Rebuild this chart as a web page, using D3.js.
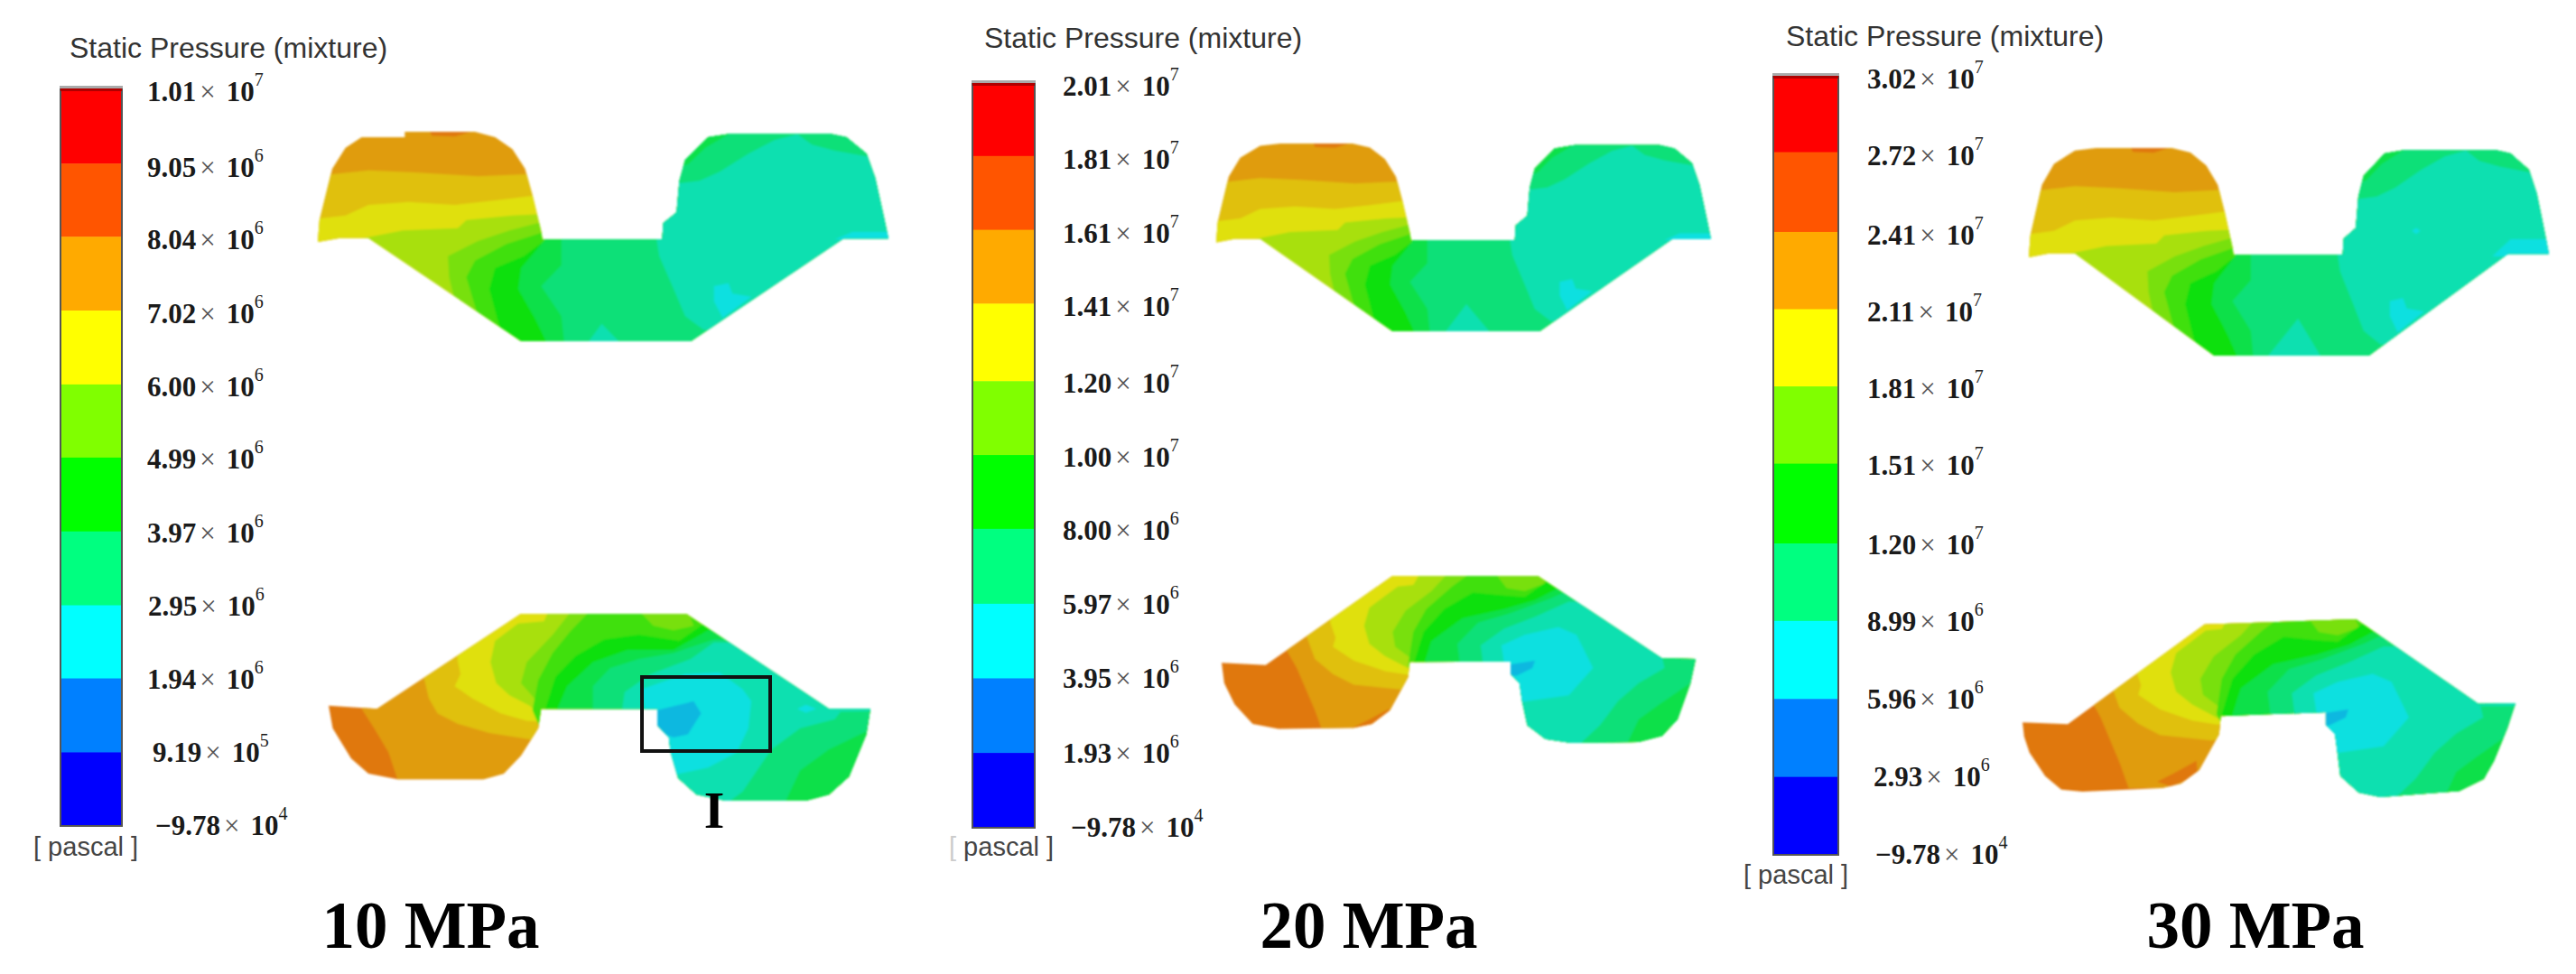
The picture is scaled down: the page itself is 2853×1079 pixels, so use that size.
<!DOCTYPE html>
<html>
<head>
<meta charset="utf-8">
<script src="https://cdn.jsdelivr.net/npm/d3@7"></script>
<style>
  html, body { margin: 0; background: #fff; }
</style>
</head>
<body>
<div id="chart"></div>
<script>
// Pressure cases and the legend levels of each one [pascal]
const caseNames = ["10 MPa", "20 MPa", "30 MPa"];
const levels10 = [1.01e7, 9.05e6, 8.04e6, 7.02e6, 6.00e6, 4.99e6, 3.97e6, 2.95e6, 1.94e6, 9.19e5, -9.78e4];
const levels20 = [2.01e7, 1.81e7, 1.61e7, 1.41e7, 1.20e7, 1.00e7, 8.00e6, 5.97e6, 3.95e6, 1.93e6, -9.78e4];
const levels30 = [3.02e7, 2.72e7, 2.41e7, 2.11e7, 1.81e7, 1.51e7, 1.20e7, 8.99e6, 5.96e6, 2.93e6, -9.78e4];
const legendTitle = "Static Pressure (mixture)";
const legendUnit = "pascal";
const legendColors = ["#ff0000", "#ff5500", "#ffaa00", "#ffff00", "#80ff00", "#00ff00", "#00ff80", "#00ffff", "#0080ff", "#0000ff"];
const contourColors = ["#e07810", "#e09c10", "#e0c010", "#e0e010", "#a8e010", "#78e010", "#40e010", "#10e010", "#10e048", "#10e078", "#10e0b0", "#10e0e0", "#10b8e0"];

// Section outlines in mesh units
const upperOutlineNotch = [[552,803],[555,730],[577,560],[600,490],[628,455],[703,455],[703,437],[825,437],[860,455],[890,495],[912,560],[925,650],[940,770],[942,795],[1150,795],[1152,740],[1175,705],[1180,600],[1190,530],[1230,455],[1270,443],[1440,443],[1470,455],[1505,510],[1520,590],[1535,720],[1543,792],[1465,792],[1200,1133],[905,1133],[640,790],[590,790]];
const upperOutline = [[552,803],[555,730],[577,560],[600,490],[640,445],[680,437],[825,437],[860,452],[890,495],[912,560],[925,650],[940,770],[942,795],[1150,795],[1152,740],[1175,705],[1180,600],[1190,530],[1230,455],[1270,443],[1440,443],[1470,455],[1505,510],[1520,590],[1535,720],[1543,792],[1465,792],[1200,1133],[905,1133],[640,790],[590,790]];
const lowerOutline10 = [[571,545],[655,555],[905,240],[1192,240],[1440,555],[1512,555],[1505,640],[1475,780],[1440,840],[1400,860],[1260,860],[1210,840],[1178,785],[1165,700],[1162,650],[1142,610],[1142,555],[940,555],[935,620],[905,710],[875,770],[840,789],[690,789],[640,770],[610,720],[578,620]];
const lowerOutline20 = [[545,403],[630,410],[875,115],[1155,115],[1395,388],[1460,390],[1450,470],[1425,590],[1395,645],[1350,665],[1220,668],[1170,655],[1135,610],[1125,530],[1120,470],[1103,440],[1103,398],[908,400],[905,450],[870,560],[835,605],[800,618],[655,622],[605,605],[570,540],[550,470]];
const lowerOutline30 = [[545,436],[629,441],[883,131],[1164,115],[1391,378],[1460,376],[1445,453],[1420,556],[1401,612],[1356,649],[1209,668],[1169,654],[1135,603],[1128,509],[1125,472],[1108,444],[1108,404],[913,416],[910,472],[873,584],[839,626],[804,640],[656,651],[617,645],[587,603],[558,530],[548,480]];

// Contour regions as [band, polygon], painted in order
const upperBands = [
  [1, [[500,380],[1700,380],[1700,1250],[500,1250]]],
  [0, [[745,430],[830,430],[790,453],[750,450]]],
  [2, [[500,580],[578,578],[640,565],[720,572],[830,585],[915,578],[1000,380],[1700,380],[1700,1250],[500,1250]]],
  [3, [[500,728],[555,725],[600,715],[640,680],[710,670],[790,680],[860,665],[925,650],[1000,380],[1700,380],[1700,1250],[500,1250]]],
  [4, [[620,795],[700,765],[795,757],[810,730],[890,715],[945,710],[1000,380],[1700,380],[1700,1250],[620,1250]]],
  [5, [[790,1000],[780,920],[778,850],[830,800],[885,765],[945,735],[1000,380],[1700,380],[1700,1250],[790,1250]]],
  [6, [[830,1050],[810,920],[825,865],[880,810],[945,770],[1000,380],[1700,380],[1700,1250],[830,1250]]],
  [7, [[875,1140],[850,960],[860,890],[910,850],[945,800],[1000,380],[1700,380],[1700,1250],[875,1250]]],
  [8, [[950,1140],[930,1060],[900,960],[905,890],[945,800],[1000,380],[1700,380],[1700,1250],[950,1250]]],
  [9, [[980,1140],[975,1050],[940,950],[975,880],[975,790],[1000,380],[1700,380],[1700,1250],[980,1250]]],
  [10, [[1140,790],[1145,850],[1170,960],[1190,1050],[1222,1095],[1700,1095],[1700,380],[1140,380]]],
  [10, [[1020,1140],[1045,1075],[1078,1140]]],
  [9, [[1170,610],[1215,600],[1250,570],[1300,510],[1345,465],[1385,445],[1410,480],[1450,500],[1510,520],[1600,400],[1170,400]]],
  [8, [[1170,560],[1195,545],[1225,490],[1270,440],[1170,400]]],
  [11, [[1240,950],[1265,940],[1272,975],[1305,985],[1255,1055],[1240,1000]]],
  [11, [[1450,795],[1480,770],[1600,770],[1600,800]]]
];
const upperExtra20 = [
  [10, [[1009,1140],[1053,1033],[1102,1140]]]
];
const upperExtra30 = [
  [10, [[1005,1140],[1065,1009],[1110,1140]]],
  [11, [[1435,800],[1470,743],[1600,743],[1600,800]]],
  [11, [[1290,705],[1298,715],[1290,725],[1282,715]]]
];
const lowerBands10 = [
  [0, [[500,100],[1700,100],[1700,950],[500,950]]],
  [1, [[620,530],[650,620],[675,700],[710,900],[1700,900],[1700,100],[620,100]]],
  [2, [[735,440],[745,520],[760,570],[795,605],[850,635],[925,658],[960,650],[1000,900],[1700,900],[1700,100],[735,100]]],
  [3, [[795,395],[800,440],[790,480],[820,520],[870,570],[915,595],[960,600],[1000,900],[1700,900],[1700,100],[795,100]]],
  [4, [[960,200],[945,265],[900,272],[860,330],[852,400],[862,470],[885,510],[920,545],[940,580],[1000,900],[1700,900],[1700,100],[960,100]]],
  [5, [[1005,200],[960,310],[915,400],[905,470],[928,520],[935,600],[1000,900],[1700,900],[1700,100],[1005,100]]],
  [6, [[1040,200],[990,300],[960,370],[935,460],[925,560],[1000,900],[1700,900],[1700,100],[1040,100]]],
  [5, [[1110,230],[1135,280],[1170,295],[1205,280],[1195,230]]],
  [7, [[945,570],[965,450],[1000,380],[1050,325],[1110,310],[1180,330],[1225,270],[1700,270],[1700,900],[1000,900]]],
  [8, [[965,570],[985,480],[1030,400],[1090,360],[1170,360],[1230,295],[1700,295],[1700,900],[1000,900]]],
  [9, [[1030,570],[1030,480],[1060,420],[1110,390],[1170,370],[1240,325],[1700,325],[1700,900],[1030,900]]],
  [10, [[1080,570],[1085,500],[1130,440],[1200,390],[1240,335],[1700,335],[1700,555],[1460,565],[1450,590],[1390,620],[1340,690],[1290,830],[1240,900],[1080,900]]],
  [8, [[1530,620],[1505,630],[1440,690],[1390,760],[1360,880],[1530,880]]],
  [11, [[1115,490],[1190,440],[1250,435],[1290,490],[1305,530],[1300,620],[1280,700],[1230,750],[1170,775],[1120,700],[1120,555]]],
  [11, [[1385,555],[1400,542],[1418,555],[1400,568]]],
  [12, [[1130,565],[1205,530],[1218,570],[1195,640],[1170,650],[1130,620]]]
];
const lowerBands20 = [
  [0, [[500,50],[1700,50],[1700,720],[500,720]]],
  [1, [[670,360],[690,420],[710,500],[725,560],[742,640],[1700,640],[1700,50],[670,50]]],
  [0, [[795,620],[830,590],[868,555],[870,600],[820,635]]],
  [2, [[710,320],[725,390],[760,440],[800,475],[895,492],[950,480],[1000,720],[1700,720],[1700,50],[710,50]]],
  [3, [[755,270],[765,320],[760,350],[800,395],[860,430],[905,442],[950,440],[1000,720],[1700,720],[1700,50],[755,50]]],
  [4, [[930,100],[915,145],[885,150],[830,220],[820,280],[830,340],[860,380],[910,425],[1000,720],[1700,720],[1700,50],[930,50]]],
  [5, [[985,100],[950,165],[900,230],[875,300],[880,350],[912,390],[1000,720],[1700,720],[1700,50],[985,50]]],
  [6, [[1030,100],[990,150],[940,225],[915,300],[905,410],[1000,720],[1700,720],[1700,50],[1030,50]]],
  [5, [[1075,110],[1095,155],[1130,165],[1170,140],[1160,105]]],
  [7, [[915,410],[935,300],[975,225],[1030,170],[1090,180],[1130,185],[1180,125],[1700,125],[1700,720],[1000,720]]],
  [8, [[935,410],[950,330],[1010,255],[1090,225],[1150,195],[1195,155],[1700,155],[1700,720],[1000,720]]],
  [9, [[1005,410],[1000,340],[1040,270],[1100,240],[1180,190],[1205,170],[1700,170],[1700,720],[1005,720]]],
  [10, [[1050,410],[1045,345],[1090,290],[1150,250],[1215,200],[1700,200],[1700,385],[1395,385],[1400,420],[1350,470],[1310,530],[1275,610],[1225,690],[1050,690]]],
  [8, [[1480,465],[1450,470],[1390,540],[1350,590],[1325,680],[1480,680]]],
  [11, [[1085,345],[1130,310],[1195,285],[1230,310],[1262,420],[1215,510],[1125,532],[1090,400]]],
  [12, [[1095,410],[1150,395],[1145,420],[1115,445],[1095,445]]]
];

const width = 2853;
const height = 1079;

// Pixel placement of each panel
const panels = [
  { name: caseNames[0], levels: levels10, barX: [67, 135], barY: [915, 97], titleX: 77, titleY: 64, unitX: 37, unitY: 948, labelX: 163, labelNudge: {7: 1, 9: 6}, nameX: 477, leftBracket: "#444",
    upperX: [352, 984], upperY: [146, 378], upperShape: upperOutlineNotch, upperExtra: [],
    lowerX: [364, 964], lowerY: [680, 887], lowerDomX: [571, 1512], lowerDomY: [240, 860], lowerShape: lowerOutline10, lowerBands: lowerBands10 },
  { name: caseNames[1], levels: levels20, barX: [1077, 1146], barY: [917, 91], titleX: 1090, titleY: 53, unitX: 1051, unitY: 948, labelX: 1177, labelNudge: {}, nameX: 1516, leftBracket: "#ccc",
    upperX: [1347, 1895], upperY: [159, 367], upperShape: upperOutline, upperExtra: upperExtra20,
    lowerX: [1353, 1878], lowerY: [638, 823], lowerDomX: [545, 1460], lowerDomY: [115, 668], lowerShape: lowerOutline20, lowerBands: lowerBands20 },
  { name: caseNames[2], levels: levels30, barX: [1964, 2036], barY: [947, 83], titleX: 1978, titleY: 51, unitX: 1931, unitY: 979, labelX: 2068, labelNudge: {9: 7}, nameX: 2498, leftBracket: "#444",
    upperX: [2247, 2823], upperY: [164, 394], upperShape: upperOutline, upperExtra: upperExtra30,
    lowerX: [2240, 2786], lowerY: [686, 883], lowerDomX: [545, 1460], lowerDomY: [115, 668], lowerShape: lowerOutline30, lowerBands: lowerBands20 }
];

const svg = d3.select("#chart")
  .append("svg")
  .attr("width", width)
  .attr("height", height)
  .style("display", "block");

const defs = svg.append("defs");
defs.append("filter")
  .attr("id", "soft")
  .append("feGaussianBlur")
  .attr("stdDeviation", 1);

const bandColor = d3.scaleOrdinal().domain(d3.range(contourColors.length)).range(contourColors);

function drawSection(id, outline, bands, x, y) {
  const line = d3.line()
    .x(d => x(d[0]))
    .y(d => y(d[1]))
    .curve(d3.curveLinearClosed);

  defs.append("clipPath")
    .attr("id", id)
    .append("path")
    .attr("d", line(outline));

  svg.append("g")
    .attr("filter", "url(#soft)")
    .append("g")
    .attr("clip-path", `url(#${id})`)
    .selectAll("path")
    .data(bands)
    .enter()
    .append("path")
    .attr("d", d => line(d[1]))
    .attr("fill", d => bandColor(d[0]));
}

function drawLegend(p) {
  const y = d3.scaleLinear()
    .domain([d3.min(p.levels), d3.max(p.levels)])
    .range(p.barY);
  // labels sit a little lower against the bar near its top
  const baseline = d3.scaleLinear()
    .domain([d3.min(p.levels), d3.max(p.levels)])
    .range([10, 15]);

  svg.append("text")
    .attr("x", p.titleX)
    .attr("y", p.titleY)
    .attr("font-family", "'Liberation Sans', Arial, sans-serif")
    .attr("font-size", 32)
    .attr("fill", "#333")
    .text(legendTitle);

  // One rect per interval between two levels
  svg.append("g")
    .selectAll("rect")
    .data(d3.pairs(p.levels))
    .enter()
    .append("rect")
    .attr("x", p.barX[0])
    .attr("y", d => y(d[0]))
    .attr("width", p.barX[1] - p.barX[0])
    .attr("height", d => y(d[1]) - y(d[0]) + 0.5)
    .attr("fill", (d, i) => legendColors[i]);

  svg.append("rect")
    .attr("x", p.barX[0])
    .attr("y", p.barY[1])
    .attr("width", p.barX[1] - p.barX[0])
    .attr("height", p.barY[0] - p.barY[1])
    .attr("fill", "none")
    .attr("stroke", "#555")
    .attr("stroke-width", 2);

  svg.append("rect")
    .attr("x", p.barX[0])
    .attr("y", p.barY[1] + 1)
    .attr("width", p.barX[1] - p.barX[0])
    .attr("height", 3)
    .attr("fill", "#b00000");

  svg.append("rect")
    .attr("x", p.barX[0] - 1)
    .attr("y", p.barY[1] - 2)
    .attr("width", p.barX[1] - p.barX[0] + 2)
    .attr("height", 3)
    .attr("fill", "#aaa");

  const labels = svg.append("g")
    .attr("font-family", "'Liberation Serif', 'Times New Roman', serif")
    .attr("font-size", 31)
    .attr("font-weight", "bold")
    .attr("fill", "#1a1a1a")
    .selectAll("text")
    .data(p.levels)
    .enter()
    .append("text")
    .attr("x", (d, i) => p.labelX + (d < 0 ? 9 : 0) + (p.labelNudge[i] || 0))
    .attr("y", d => y(d) + baseline(d));

  // split each level into mantissa and power of ten
  labels.append("tspan")
    .text(d => d3.format(".2f")(Math.abs(d) / Math.pow(10, Math.floor(Math.log10(Math.abs(d)))))
      .replace(/^/, d < 0 ? "\u2212" : ""));
  labels.append("tspan")
    .attr("dx", 4)
    .attr("font-weight", "normal")
    .attr("fill", "#555")
    .text("\u00d7");
  labels.append("tspan")
    .attr("dx", 12)
    .text("10");
  labels.append("tspan")
    .attr("dy", -17)
    .attr("font-size", 20)
    .attr("font-weight", "normal")
    .text(d => Math.floor(Math.log10(Math.abs(d))));

  const unit = svg.append("text")
    .attr("x", p.unitX)
    .attr("y", p.unitY)
    .attr("font-family", "'Liberation Sans', Arial, sans-serif")
    .attr("font-size", 29)
    .attr("fill", "#444");
  unit.append("tspan").attr("fill", p.leftBracket).text("[");
  unit.append("tspan").text(` ${legendUnit} ]`);

  svg.append("text")
    .attr("x", p.nameX)
    .attr("y", 1050)
    .attr("text-anchor", "middle")
    .attr("font-family", "'Liberation Serif', 'Times New Roman', serif")
    .attr("font-size", 73)
    .attr("font-weight", "bold")
    .attr("fill", "#000")
    .text(p.name);
}

panels.forEach((p, i) => {
  drawLegend(p);

  const ux = d3.scaleLinear().domain([552, 1543]).range(p.upperX);
  const uy = d3.scaleLinear().domain([437, 1133]).range(p.upperY);
  drawSection(`upper${i}`, p.upperShape, upperBands.concat(p.upperExtra), ux, uy);

  const lx = d3.scaleLinear().domain(p.lowerDomX).range(p.lowerX);
  const ly = d3.scaleLinear().domain(p.lowerDomY).range(p.lowerY);
  drawSection(`lower${i}`, p.lowerShape, p.lowerBands, lx, ly);
});

// Detail box I on the 10 MPa case
svg.append("rect")
  .attr("x", 711)
  .attr("y", 750)
  .attr("width", 142)
  .attr("height", 82)
  .attr("fill", "none")
  .attr("stroke", "#111")
  .attr("stroke-width", 4);

svg.append("text")
  .attr("x", 791)
  .attr("y", 917)
  .attr("text-anchor", "middle")
  .attr("font-family", "'Liberation Serif', 'Times New Roman', serif")
  .attr("font-size", 58)
  .attr("font-weight", "bold")
  .attr("fill", "#000")
  .text("I");
</script>
</body>
</html>
